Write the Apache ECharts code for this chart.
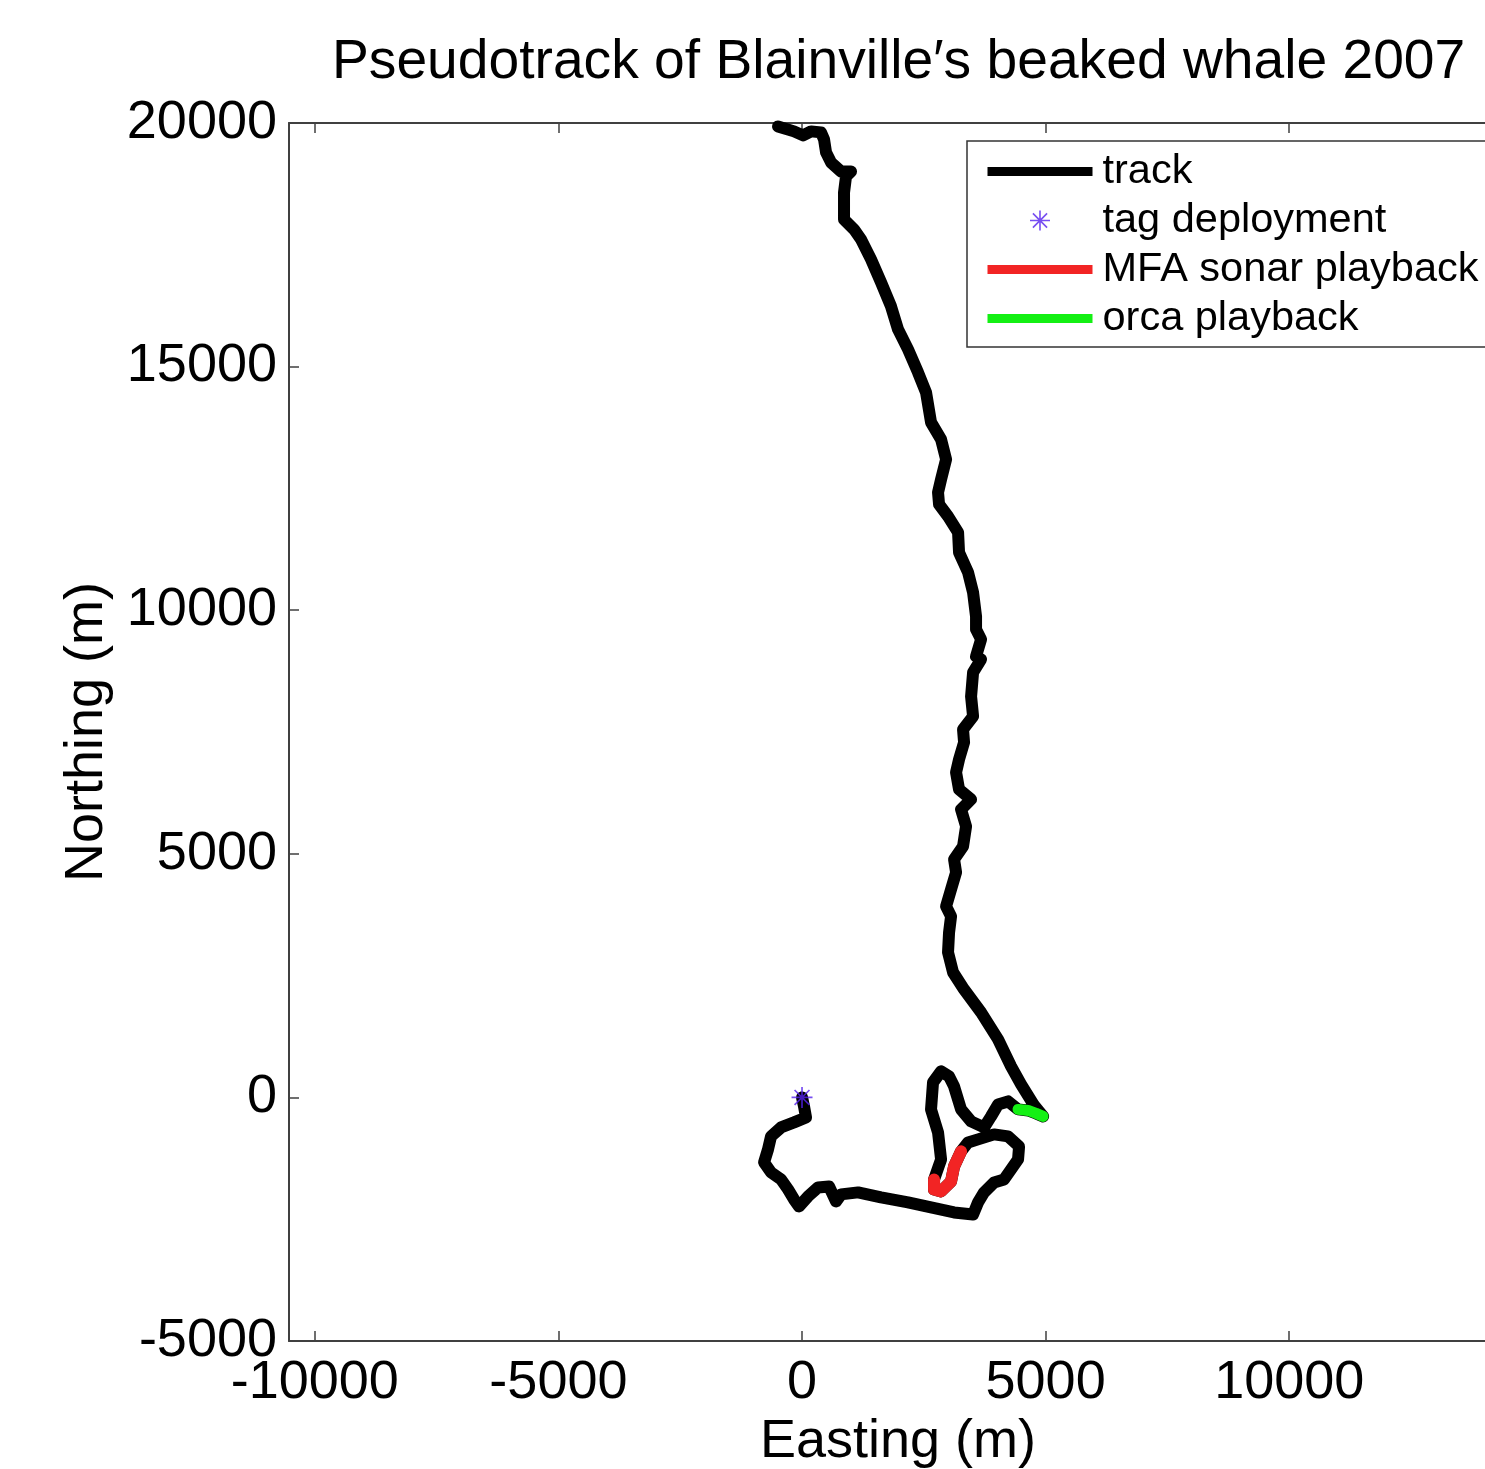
<!DOCTYPE html>
<html>
<head>
<meta charset="utf-8">
<script src="https://cdn.jsdelivr.net/npm/echarts@6/dist/echarts.min.js"></script>
<style>
  html, body { margin: 0; padding: 0; background: #fff; }
  #chart { width: 1485px; height: 1469px; }
</style>
</head>
<body>
<div id="chart"></div>
<script>
// track positions (m)
var trackE = [0, 41, 82, -164, -431, -636, -698, -780, -636, -431, -287, -164, -62, 123, 328, 554, 698, 801, 1150, 1622,
  2176, 2648, 3121, 3511, 3613, 3736, 3942, 4147, 4291, 4434, 4455, 4229, 3942, 3613, 3408, 3264, 3121, 3059, 2854, 2710,
  2710, 2854, 2792, 2648, 2689, 2854, 3018, 3121, 3264, 3470, 3736, 3880, 4024, 4229, 4434, 4640, 4804, 4948, 4763, 4496,
  4291, 4024, 3675, 3326, 3100, 2997, 3018, 3059, 2957, 3059, 3162, 3121, 3305, 3367, 3264, 3470, 3223, 3162, 3223, 3326,
  3305, 3511, 3470, 3511, 3675, 3572, 3675, 3572, 3572, 3511, 3408, 3223, 3203, 2997, 2813, 2792, 2854, 2957, 2854, 2648,
  2546, 2381, 2176, 1971, 1827, 1622, 1417, 1211, 1068, 862, 862, 862, 903, 1006, 801, 595, 493, 452, 390, 185,
  21, -164, -493];
var trackN = [0, -185, -411, -513, -616, -800, -1067, -1334, -1540, -1683, -1889, -2094, -2238, -2032, -1848, -1827, -2135, -1991, -1950, -2053,
  -2155, -2258, -2361, -2402, -2155, -1950, -1745, -1683, -1478, -1273, -1006, -800, -759, -862, -924, -1108, -1416, -1724, -1929, -1889,
  -1683, -1273, -718, -246, 308, 534, 431, 226, -246, -493, -616, -390, -144, -82, -246, -267, -328, -390, -164, 267,
  636, 1190, 1745, 2217, 2566, 2976, 3387, 3716, 3921, 4270, 4619, 4886, 5152, 5563, 5911, 6117, 6322, 6671, 6938, 7287,
  7553, 7820, 8231, 8723, 8990, 9052, 9401, 9606, 9873, 10365, 10776, 11186, 11597, 11925, 12171, 12418, 12685, 13095, 13506, 13855,
  14470, 14881, 15353, 15764, 16236, 16728, 17200, 17611, 17816, 18021, 18288, 18575, 18904, 19006, 19006, 19191, 19396, 19663, 19807, 19828,
  19746, 19828, 19930];

var tagE = [0];
var tagN = [0];

var sonarE = [3264, 3121, 3059, 2854, 2710, 2710];
var sonarN = [-1108, -1416, -1724, -1929, -1889, -1683];

var orcaE = [4434, 4640, 4804, 4948];
var orcaN = [-246, -267, -328, -390];

var xTicks = [-10000, -5000, 0, 5000, 10000];

function zip(a, b) {
  return a.map(function (v, i) { return [v, b[i]]; });
}

var font = 'Liberation Sans, Arial, sans-serif';
var axisColor = '#404040';
var asterisk = 'path://M0 46L100 46L100 54L0 54Z M46 0L54 0L54 100L46 100Z ' +
  'M17.4 11.8L88.2 82.6L82.6 88.2L11.8 17.4Z M88.2 17.4L17.4 88.2L11.8 82.6L82.6 11.8Z';
var plain = function (v) { return String(v); };

var option = {
  animation: false,
  backgroundColor: '#fff',
  title: {
    text: 'Pseudotrack of Blainville\u2032s beaked whale 2007',
    left: 327,
    top: 30,
    textStyle: { fontFamily: font, fontSize: 55.2, fontWeight: 'normal', color: '#000' }
  },
  legend: {
    orient: 'vertical',
    left: 967,
    top: 141,
    padding: [8, 21, 6, 16],
    itemWidth: 105,
    itemHeight: 20,
    itemGap: 4,
    borderColor: '#333',
    borderWidth: 1.5,
    backgroundColor: '#fff',
    lineStyle: { width: 9, cap: 'butt' },
    textStyle: { fontFamily: font, fontSize: 41.5, lineHeight: 45, color: '#000', padding: [0, 0, 0, 5] },
    data: [
      { name: 'track', itemStyle: { opacity: 0 } },
      'tag deployment',
      { name: 'MFA sonar playback', itemStyle: { opacity: 0 } },
      { name: 'orca playback', itemStyle: { opacity: 0 } }
    ]
  },
  grid: { left: 289, top: 123, width: 1218, height: 1218, outerBoundsMode: 'none' },
  xAxis: [{
    type: 'value',
    min: -10530,
    max: 14470,
    name: 'Easting (m)',
    nameLocation: 'middle',
    nameGap: 73,
    nameTextStyle: { fontFamily: font, fontSize: 54, color: '#000' },
    axisLine: { show: true, onZero: false, lineStyle: { color: axisColor, width: 2 } },
    axisTick: { show: true, inside: true, length: 10, customValues: xTicks, lineStyle: { color: axisColor, width: 1.5 } },
    axisLabel: { customValues: xTicks, formatter: plain, fontFamily: font, fontSize: 54, color: '#000', margin: 15 },
    splitLine: { show: false }
  }, {
    type: 'value',
    position: 'top',
    min: -10530,
    max: 14470,
    axisLine: { show: true, onZero: false, lineStyle: { color: axisColor, width: 2 } },
    axisTick: { show: true, inside: true, length: 10, customValues: xTicks, lineStyle: { color: axisColor, width: 1.5 } },
    axisLabel: { show: false },
    splitLine: { show: false }
  }],
  yAxis: [{
    type: 'value',
    min: -5000,
    max: 20000,
    interval: 5000,
    name: 'Northing (m)',
    nameLocation: 'middle',
    nameGap: 175,
    nameTextStyle: { fontFamily: font, fontSize: 54, color: '#000' },
    axisLine: { show: true, onZero: false, lineStyle: { color: axisColor, width: 2 } },
    axisTick: { show: true, inside: true, length: 10, lineStyle: { color: axisColor, width: 1.5 } },
    axisLabel: { formatter: plain, fontFamily: font, fontSize: 54, color: '#000', margin: 12 },
    splitLine: { show: false }
  }, {
    type: 'value',
    position: 'right',
    min: -5000,
    max: 20000,
    interval: 5000,
    axisLine: { show: true, onZero: false, lineStyle: { color: axisColor, width: 2 } },
    axisTick: { show: true, inside: true, length: 10 },
    axisLabel: { show: false },
    splitLine: { show: false }
  }],
  series: [
    {
      name: 'track',
      type: 'line',
      data: zip(trackE, trackN),
      symbol: 'none',
      lineStyle: { color: '#000', width: 12, cap: 'round', join: 'round' },
      itemStyle: { color: '#000' },
      z: 2
    },
    {
      name: 'tag deployment',
      type: 'scatter',
      data: zip(tagE, tagN),
      symbol: asterisk,
      symbolSize: 21,
      symbolKeepAspect: true,
      itemStyle: { color: '#5522ee' },
      z: 5
    },
    {
      name: 'MFA sonar playback',
      type: 'line',
      data: zip(sonarE, sonarN),
      symbol: 'none',
      lineStyle: { color: '#f22424', width: 12, cap: 'round', join: 'round' },
      itemStyle: { color: '#f22424' },
      z: 3
    },
    {
      name: 'orca playback',
      type: 'line',
      data: zip(orcaE, orcaN),
      symbol: 'none',
      lineStyle: { color: '#14f014', width: 11, cap: 'round', join: 'round' },
      itemStyle: { color: '#14f014' },
      z: 3
    }
  ]
};

var myChart = echarts.init(document.getElementById('chart'));
myChart.setOption(option, true);
</script>
</body>
</html>
